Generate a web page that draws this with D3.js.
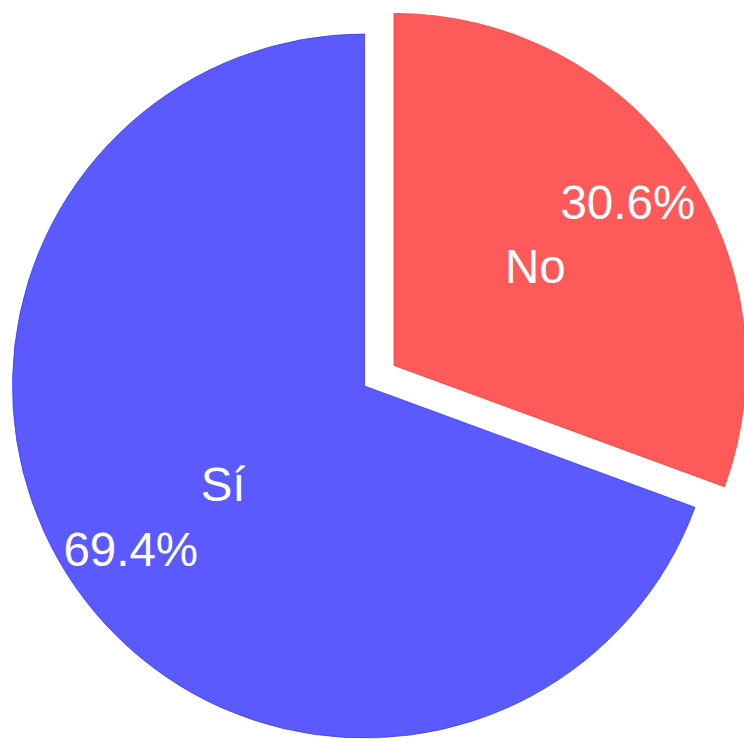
<!DOCTYPE html>
<html>
<head>
<meta charset="utf-8">
<script src="https://cdn.jsdelivr.net/npm/d3@7"></script>
<style>
  html, body { margin: 0; padding: 0; background: #ffffff; }
  svg { display: block; }
</style>
</head>
<body>
<svg id="chart" width="744" height="739"></svg>
<script>
// Survey answers and their shares (percent)
const categories = ["No", "Sí"];
const shares = [30.6, 69.4];
const fills = ["#ff5a5a", "#5a5aff"];
const edges = ["#ff3a3a", "#3a3aff"];
const explode = [36, 0];

const width = 744, height = 739;
const cx = 364.5, cy = 386, radius = 352;

const svg = d3.select("#chart");
const g = svg.append("g").attr("transform", `translate(${cx},${cy})`);

// Slices run clockwise from twelve o'clock in data order
const pie = d3.pie().sort(null).value(d => d.value);
const arcs = pie(categories.map((c, i) => ({ label: c, value: shares[i], i })));

const arc = d3.arc().innerRadius(0).outerRadius(radius);

const slice = g.selectAll("g.slice")
  .data(arcs)
  .join("g")
  .attr("class", "slice")
  .attr("transform", d => {
    const mid = (d.startAngle + d.endAngle) / 2;
    const off = explode[d.data.i];
    return `translate(${off * Math.sin(mid)},${-off * Math.cos(mid)})`;
  });

slice.append("path")
  .attr("d", arc)
  .attr("fill", d => fills[d.data.i])
  .attr("stroke", d => edges[d.data.i])
  .attr("stroke-width", 0.8);

const pos = (d, k) => {
  const mid = (d.startAngle + d.endAngle) / 2;
  return [k * radius * Math.sin(mid), -k * radius * Math.cos(mid)];
};

const textStyle = sel => sel
  .attr("text-anchor", "middle")
  .attr("dominant-baseline", "central")
  .attr("fill", "#ffffff")
  .attr("font-family", "'Liberation Sans', Arial, Helvetica, sans-serif")
  .attr("font-size", 47.5);

slice.append("text")
  .attr("x", d => pos(d, 0.49)[0])
  .attr("y", d => pos(d, 0.49)[1])
  .call(textStyle)
  .text(d => d.data.label);

slice.append("text")
  .attr("x", d => pos(d, 0.81)[0])
  .attr("y", d => pos(d, 0.81)[1])
  .call(textStyle)
  .text(d => d3.format(".1f")(d.data.value) + "%");
</script>
</body>
</html>
